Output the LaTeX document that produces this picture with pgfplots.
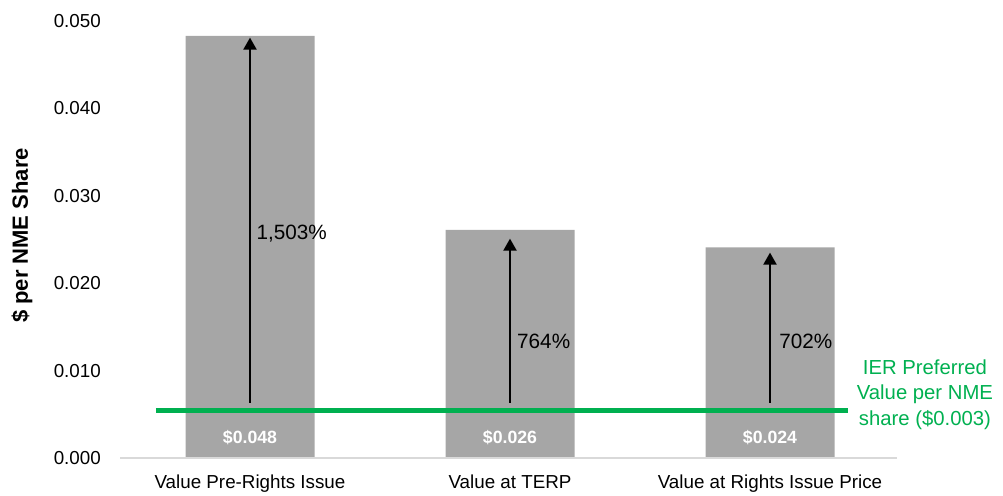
\documentclass[border=0pt]{standalone}
\usepackage{pgfplots}
\pgfplotsset{compat=1.18}
\usepackage{fontspec}
\setmainfont{Liberation Sans}
\usetikzlibrary{arrows.meta}
\definecolor{bargray}{HTML}{A6A6A6}
\definecolor{iergreen}{HTML}{00B050}
\definecolor{axgray}{HTML}{D9D9D9}
\begin{document}
\begin{tikzpicture}
\useasboundingbox (0,0) rectangle (1003pt,495pt);
\begin{axis}[
  at={(120pt,37pt)}, anchor=south west,
  scale only axis, width=780pt, height=437pt,
  xmin=-0.5, xmax=2.5, ymin=0, ymax=0.05,
  clip=false,
  scaled y ticks=false,
  axis line style={draw=none},
  major tick length=0pt,
  xtick={0,1,2},
  xticklabels={Value Pre-Rights Issue, Value at TERP, Value at Rights Issue Price},
  ytick={0,0.01,0.02,0.03,0.04,0.05},
  yticklabels={0.000,0.010,0.020,0.030,0.040,0.050},
  ticklabel style={font=\fontsize{18.8pt}{22pt}\selectfont, inner sep=0pt},
  yticklabel style={anchor=east, xshift=-19pt},
  xticklabel style={anchor=north, yshift=-17pt},
  ylabel={\$ per NME Share},
  ylabel style={font=\fontsize{22pt}{26pt}\selectfont\bfseries, at={(axis description cs:-0.1256,0.509)}, anchor=center},
]
\addplot[ybar, bar width=129pt, fill=bargray, draw=none] coordinates {(0,0.0483) (1,0.0261) (2,0.0241)};
\draw[axgray, line width=1.3pt] (axis cs:-0.5,0) -- (axis cs:2.49,0);
\addplot[iergreen, line width=4.5pt, no marks] coordinates {(-0.362,0.00546) (2.3,0.00546)};
\addplot[black, line width=2pt, no marks, -{Triangle[length=12pt,width=13pt]}] coordinates {(0,0.0063) (0,0.0481)};
\addplot[black, line width=2pt, no marks, -{Triangle[length=12pt,width=13pt]}] coordinates {(1,0.0063) (1,0.0251)};
\addplot[black, line width=2pt, no marks, -{Triangle[length=12pt,width=13pt]}] coordinates {(2,0.0063) (2,0.0235)};
\node[anchor=west, font=\fontsize{20.7pt}{24pt}\selectfont, inner sep=0pt] at (axis cs:0.025,0.0257) {1,503\%};
\node[anchor=west, font=\fontsize{20.7pt}{24pt}\selectfont, inner sep=0pt] at (axis cs:1.027,0.0134) {764\%};
\node[anchor=west, font=\fontsize{20.7pt}{24pt}\selectfont, inner sep=0pt] at (axis cs:2.035,0.0134) {702\%};
\node[white, font=\fontsize{17.7pt}{21pt}\selectfont\bfseries, inner sep=0pt] at (axis cs:0,0.00229) {\$0.048};
\node[white, font=\fontsize{17.7pt}{21pt}\selectfont\bfseries, inner sep=0pt] at (axis cs:1,0.00229) {\$0.026};
\node[white, font=\fontsize{17.7pt}{21pt}\selectfont\bfseries, inner sep=0pt] at (axis cs:2,0.00229) {\$0.024};
\node[iergreen, align=center, font=\fontsize{20.3pt}{25.5pt}\selectfont, inner sep=0pt] at (axis cs:2.596,0.00727) {IER Preferred\\Value per NME\\share (\$0.003)};
\end{axis}
\end{tikzpicture}
\end{document}
